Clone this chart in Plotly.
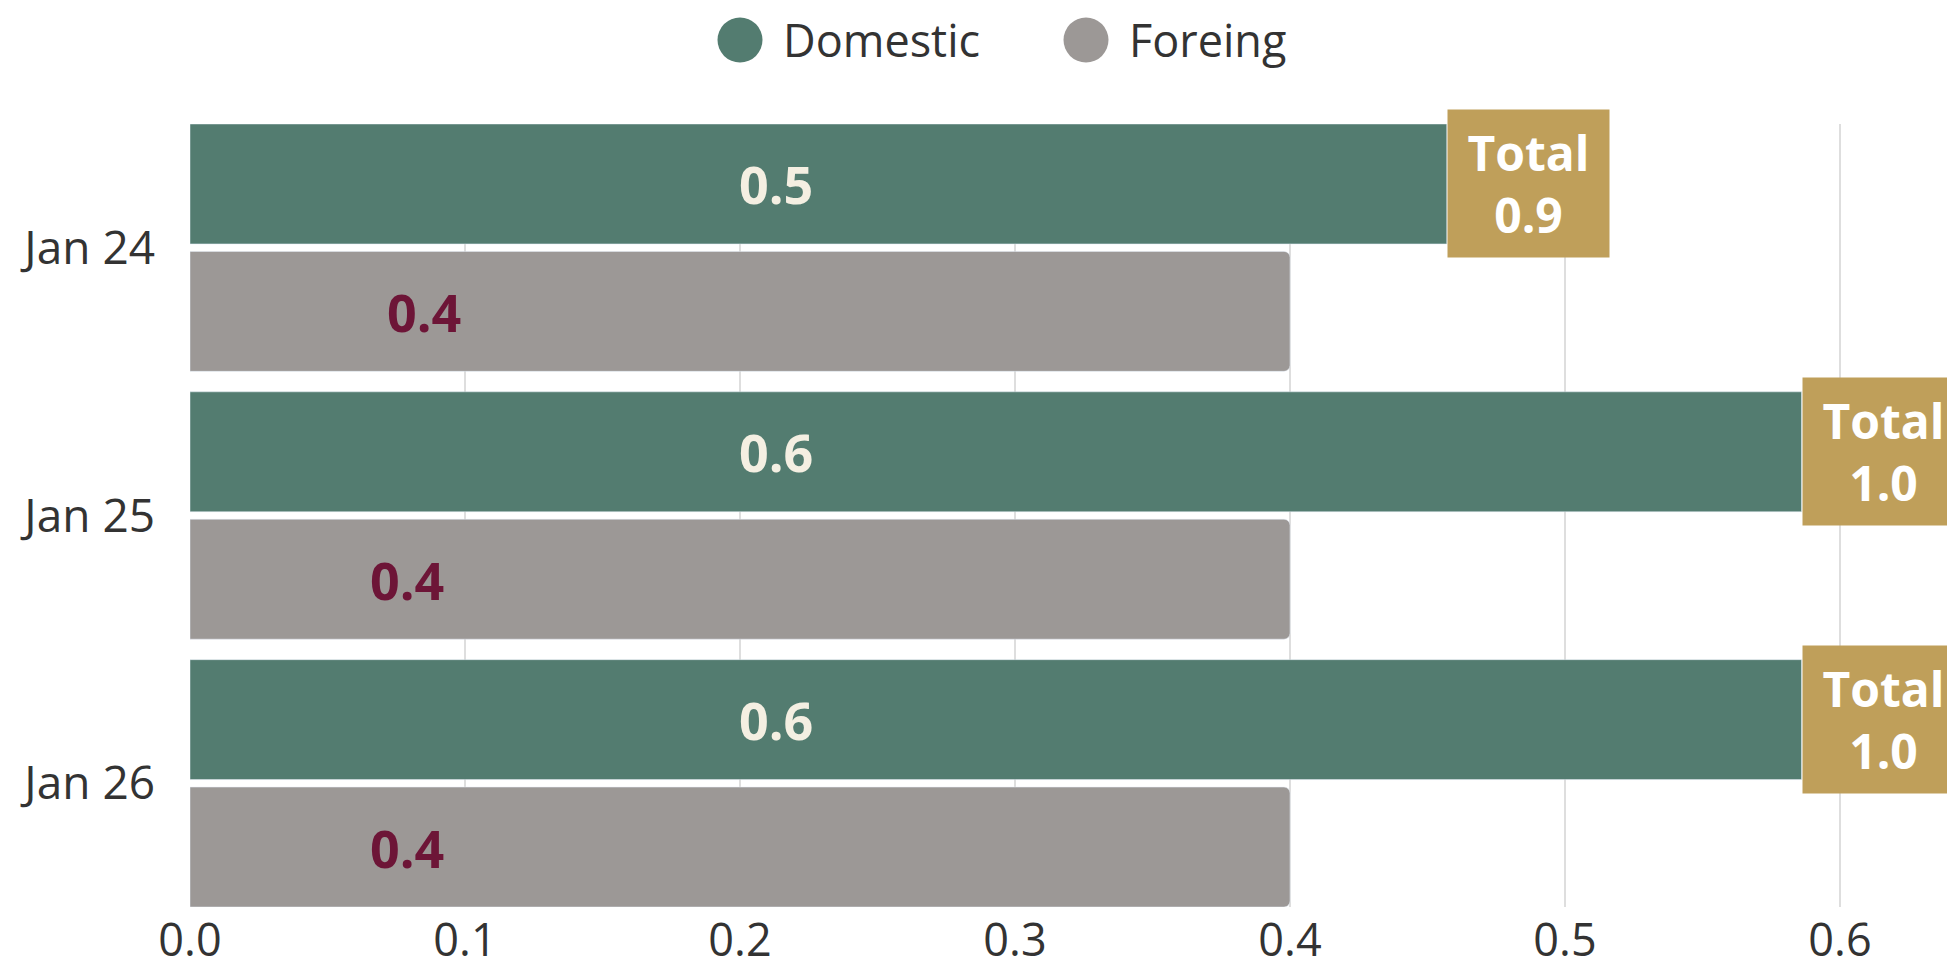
import plotly.graph_objects as go

# ---- data ----
categories = ["Jan 24", "Jan 25", "Jan 26"]
domestic = [0.457, 0.586, 0.586]
foreign = [0.40, 0.40, 0.40]
series_names = ["Domestic", "Foreing"]
x_ticks = [0.0, 0.1, 0.2, 0.3, 0.4, 0.5, 0.6]

# ---- style / layout constants ----
W, H = 1947, 968
M_L, M_R, M_T, M_B = 190, 0, 124, 61
PX_PER_UNIT = 2750.0
X_MAX = (W - M_L - M_R) / PX_PER_UNIT
BARGAP = 0.0485
BARGROUPGAP = 0.059
FONT = "Open Sans"
C_DOM = "#537c70"
C_FOR = "#9c9896"
C_TOT = "#bf9f5a"
C_DOM_TXT = "#f4efe2"
C_FOR_TXT = "#6d1537"
C_AXIS_TXT = "#333333"
DOM_LABEL_X = 0.213
FOR_LABEL_X = [0.085, 0.079, 0.079]
FS = 46
FS_X = 45
FS_VAL = 52
FS_TOT = 48

fig = go.Figure()
fig.add_trace(go.Bar(y=categories, x=domestic, orientation="h", name=series_names[0],
                     marker=dict(color=C_DOM), showlegend=False, hoverinfo="x+name"))
fig.add_trace(go.Bar(y=categories, x=foreign, orientation="h", name=series_names[1],
                     marker=dict(color=C_FOR, cornerradius=6), showlegend=False, hoverinfo="x+name"))

off = (1 - BARGAP) / 4.0
inset = BARGAP / 2 + (1 - BARGAP) / 2 * BARGROUPGAP / 2
ann = []
for i, (d, f) in enumerate(zip(domestic, foreign)):
    ann.append(dict(x=DOM_LABEL_X, y=i - off, xref="x", yref="y", text=f"<b>{d:.1f}</b>",
                    showarrow=False, font=dict(family=FONT, size=FS_VAL, color=C_DOM_TXT)))
    ann.append(dict(x=FOR_LABEL_X[i], y=i + off, xref="x", yref="y", text=f"<b>{f:.1f}</b>",
                    showarrow=False, font=dict(family=FONT, size=FS_VAL, color=C_FOR_TXT)))
    ann.append(dict(x=d, y=i - off, xref="x", yref="y", xanchor="left", yanchor="middle",
                    text=f"<b>Total<br>{d + f:.1f}</b>", showarrow=False, align="center",
                    bgcolor=C_TOT, width=161, height=147, borderpad=0,
                    font=dict(family=FONT, size=FS_TOT, color="#ffffff")))

# manual legend
plot_w = W - M_L - M_R
plot_h = H - M_T - M_B
leg_y = (H - M_B - 40) / plot_h
leg_items = [(series_names[0], C_DOM, 740, 781), (series_names[1], C_FOR, 1086, 1127)]
shapes = []
for name, col, cx, tx in leg_items:
    xa = (cx - M_L) / plot_w
    shapes.append(dict(type="circle", xref="paper", yref="paper", xsizemode="pixel", ysizemode="pixel",
                       xanchor=xa, yanchor=leg_y, x0=-22.5, x1=22.5, y0=-22.5, y1=22.5,
                       fillcolor=col, line=dict(width=0)))
    ann.append(dict(x=(tx - M_L) / plot_w, y=leg_y, xref="paper", yref="paper", xanchor="left",
                    yanchor="middle", text=name, showarrow=False,
                    font=dict(family=FONT, size=45, color=C_AXIS_TXT)))

fig.update_layout(
    width=W, height=H,
    margin=dict(l=M_L, r=M_R, t=M_T, b=M_B, pad=0, autoexpand=False),
    barmode="group", bargap=BARGAP, bargroupgap=BARGROUPGAP,
    paper_bgcolor="#ffffff", plot_bgcolor="rgba(0,0,0,0)",
    font=dict(family=FONT, color=C_AXIS_TXT),
    annotations=ann, shapes=shapes,
    showlegend=False,
)
fig.update_xaxes(range=[0, X_MAX], tickvals=x_ticks, tickformat=".1f", automargin=False,
                 showgrid=True, gridcolor="#dedede", gridwidth=1.5, zeroline=False,
                 showline=False, ticks="", tickfont=dict(size=FS_X, color=C_AXIS_TXT),
                 ticklabelstandoff=3)
fig.update_yaxes(range=[2.5 - inset, -0.5 + inset], showgrid=False, zeroline=False, automargin=False,
                 showline=False, ticks="", tickfont=dict(size=FS, color=C_AXIS_TXT),
                 ticklabelstandoff=34)

fig.write_html("out.html", config={"displayModeBar": False},
               post_script="document.body.style.margin='0px';document.body.style.overflow='hidden';")
